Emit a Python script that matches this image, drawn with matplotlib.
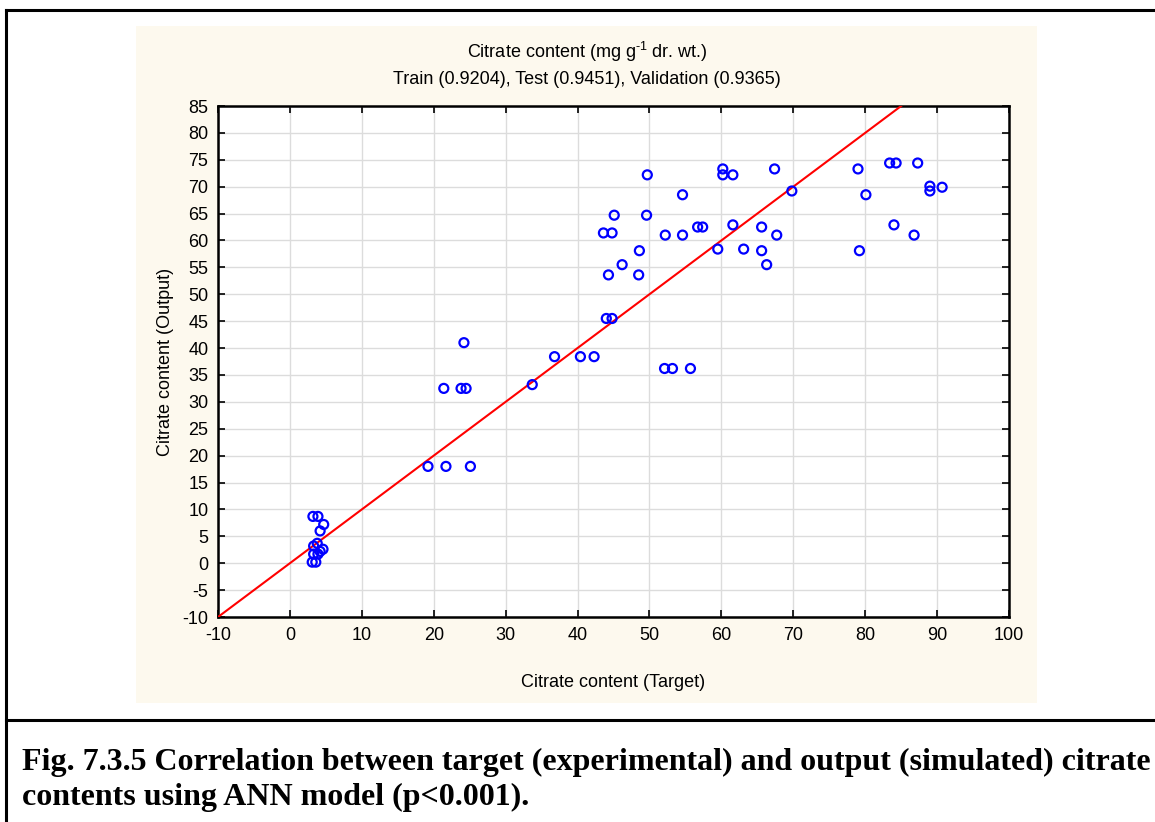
import matplotlib.pyplot as plt
from matplotlib.patches import Rectangle
from matplotlib.lines import Line2D

plt.rcParams['font.family'] = ['Liberation Sans', 'DejaVu Sans']
plt.rcParams['axes.unicode_minus'] = False
plt.rcParams['mathtext.fontset'] = 'custom'
plt.rcParams['mathtext.rm'] = 'Liberation Sans'

# target (experimental) vs output (simulated) citrate content
target = [3.2, 3.9, 4.7, 4.2, 3.8, 3.3, 4.6, 4.2, 3.3, 3.9, 3.1, 3.6,
          19.2, 21.7, 25.1, 21.4, 23.8, 24.5, 24.2, 33.7, 36.8, 40.4, 42.3,
          52.1, 53.2, 55.7, 44.0, 44.8, 44.3, 48.5, 46.2, 48.6, 43.6, 44.8,
          45.1, 49.6, 49.7, 52.2, 54.6, 54.6, 56.7, 57.4, 59.5, 60.2, 60.2,
          61.6, 61.6, 63.1, 65.6, 65.6, 66.3, 67.7, 67.4, 69.8, 79.0, 79.2,
          80.1, 83.4, 84.3, 87.3, 84.0, 86.8, 89.0, 89.0, 90.7]
output = [8.7, 8.7, 7.2, 6.0, 3.7, 3.2, 2.6, 2.2, 1.7, 1.7, 0.2, 0.2,
          18.0, 18.0, 18.0, 32.5, 32.5, 32.5, 41.0, 33.2, 38.4, 38.4, 38.4,
          36.2, 36.2, 36.2, 45.5, 45.5, 53.6, 53.6, 55.5, 58.1, 61.4, 61.4,
          64.7, 64.7, 72.2, 61.0, 61.0, 68.5, 62.5, 62.5, 58.4, 73.3, 72.2,
          72.2, 62.9, 58.4, 62.5, 58.1, 55.5, 61.0, 73.3, 69.2, 73.3, 58.1,
          68.5, 74.4, 74.4, 74.4, 62.9, 61.0, 70.1, 69.2, 69.9]

fit_x = [-10, 100]
fit_y = [-10, 100]

x_ticks = list(range(-10, 101, 10))
y_ticks = list(range(-10, 86, 5))

title_lines = [r'Citrate content (mg g$^{\text{-}1}$ dr. wt.)',
               'Train (0.9204), Test (0.9451), Validation (0.9365)']
caption = ['Fig. 7.3.5 Correlation between target (experimental) and output (simulated) citrate',
           'contents using ANN model (p<0.001).']

fig = plt.figure(figsize=(11.55, 8.22), dpi=100)
W, H = 1155, 822

def fx(px):
    return px / W

def fy(py):
    return 1 - py / H

# outer frame and caption separator
fig.add_artist(Line2D([fx(6), fx(6)], [fy(10), 0], color='black', lw=2.2))
fig.add_artist(Line2D([fx(6), 1], [fy(10), fy(10)], color='black', lw=2.2))
fig.add_artist(Line2D([fx(6), 1], [fy(720), fy(720)], color='black', lw=2.2))

# beige chart background
fig.add_artist(Rectangle((fx(136), fy(703)), fx(1037 - 136), (703 - 26) / H,
                         facecolor='#fdf9ee', edgecolor='none', zorder=0))

ax = fig.add_axes([fx(218), fy(617), fx(1009 - 218), (617 - 106) / H])
ax.set_facecolor('white')

ax.plot(fit_x, fit_y, color='red', lw=1.5, zorder=3)
ax.scatter(target, output, s=42, facecolors='none', edgecolors='#0000ff',
           linewidths=1.6, zorder=4, clip_on=False)

ax.set_xlim(-10, 100)
ax.set_ylim(-10, 85)
ax.set_xticks(x_ticks)
ax.set_yticks(y_ticks)
ax.grid(True, color='#dcdcdc', lw=1.0)
ax.set_axisbelow(True)
ax.tick_params(direction='in', top=True, right=True, length=5, width=1.2,
               labelsize=13, pad=7)
for s in ax.spines.values():
    s.set_linewidth(1.8)

ax.set_xlabel('Citrate content (Target)', fontsize=13, labelpad=22)
ax.set_ylabel('Citrate content (Output)', fontsize=13, labelpad=6)

fig.text(fx(587), fy(52), title_lines[0], ha='center', va='center', fontsize=13)
fig.text(fx(587), fy(80), title_lines[1], ha='center', va='center', fontsize=13)

for i, line in enumerate(caption):
    fig.text(fx(22), fy(762 + 35 * i), line, ha='left', va='center',
             fontsize=23, fontweight='bold', family='Liberation Serif')

fig.savefig('out.png', dpi=100)
